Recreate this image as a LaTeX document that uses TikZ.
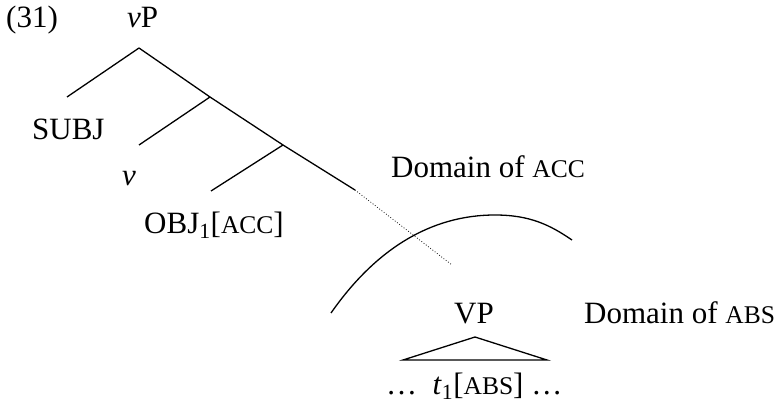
\documentclass[tikz,border=0pt]{standalone}
\usepackage{fontspec}
\setmainfont{Liberation Serif}
\newcommand{\fsc}[1]{{\fontsize{25.5}{28}\selectfont #1}}
\begin{document}
\begin{tikzpicture}[x=1pt,y=-1pt,
  lab/.style={anchor=base west,inner sep=0pt,font=\fontsize{31}{34}\selectfont},
  branch/.style={line width=1.3pt}]
\useasboundingbox (0,0) rectangle (779,404);
% labels
\node[lab] (ex) at (6,28) {(31)};
\node[lab] (vp) at (127,28) {\textit{v}P};
\node[lab] (subj) at (32,139) {SUBJ};
\node[lab] (vlab) at (122,185) {\textit{v}};
\node[lab] (obj) at (144,233) {OBJ\textsubscript{1}[\fsc{ACC}]};
\node[lab] (dacc) at (391,177) {Domain of \fsc{ACC}};
\node[lab] (VP) at (454,323) {VP};
\node[lab] (dabs) at (584,323) {Domain of \fsc{ABS}};
\node[lab] (trace) at (386,394) {\dots\ \ \textit{t}\textsubscript{1}[\fsc{ABS}] \dots};
% tree points
\coordinate (top) at (139,48);
\coordinate (l0) at (67,97);
\coordinate (n1) at (210,97);
\coordinate (l1) at (139,145);
\coordinate (n2) at (283,145);
\coordinate (l2) at (211,191);
\coordinate (solidend) at (355,190);
\coordinate (dotend) at (452,265);
\draw[branch] (top) -- (l0);
\draw[branch] (top) -- (n1) -- (n2) -- (solidend);
\draw[branch] (n1) -- (l1);
\draw[branch] (n2) -- (l2);
\draw[line width=0.8pt,dotted] (solidend) -- (dotend);
% domain curve
\coordinate (c0) at (331,313);
\coordinate (cpk) at (495,215);
\coordinate (c1) at (572,240);
\draw[branch] (c0) .. controls (375,250) and (430,215) .. (cpk)
  .. controls (530,215) and (550,225) .. (c1);
% triangle
\coordinate (ta) at (475,337);
\coordinate (tl) at (403,360);
\coordinate (tr) at (547,360);
\draw[branch] (ta) -- (tl) -- (tr) -- cycle;
\end{tikzpicture}
\end{document}
